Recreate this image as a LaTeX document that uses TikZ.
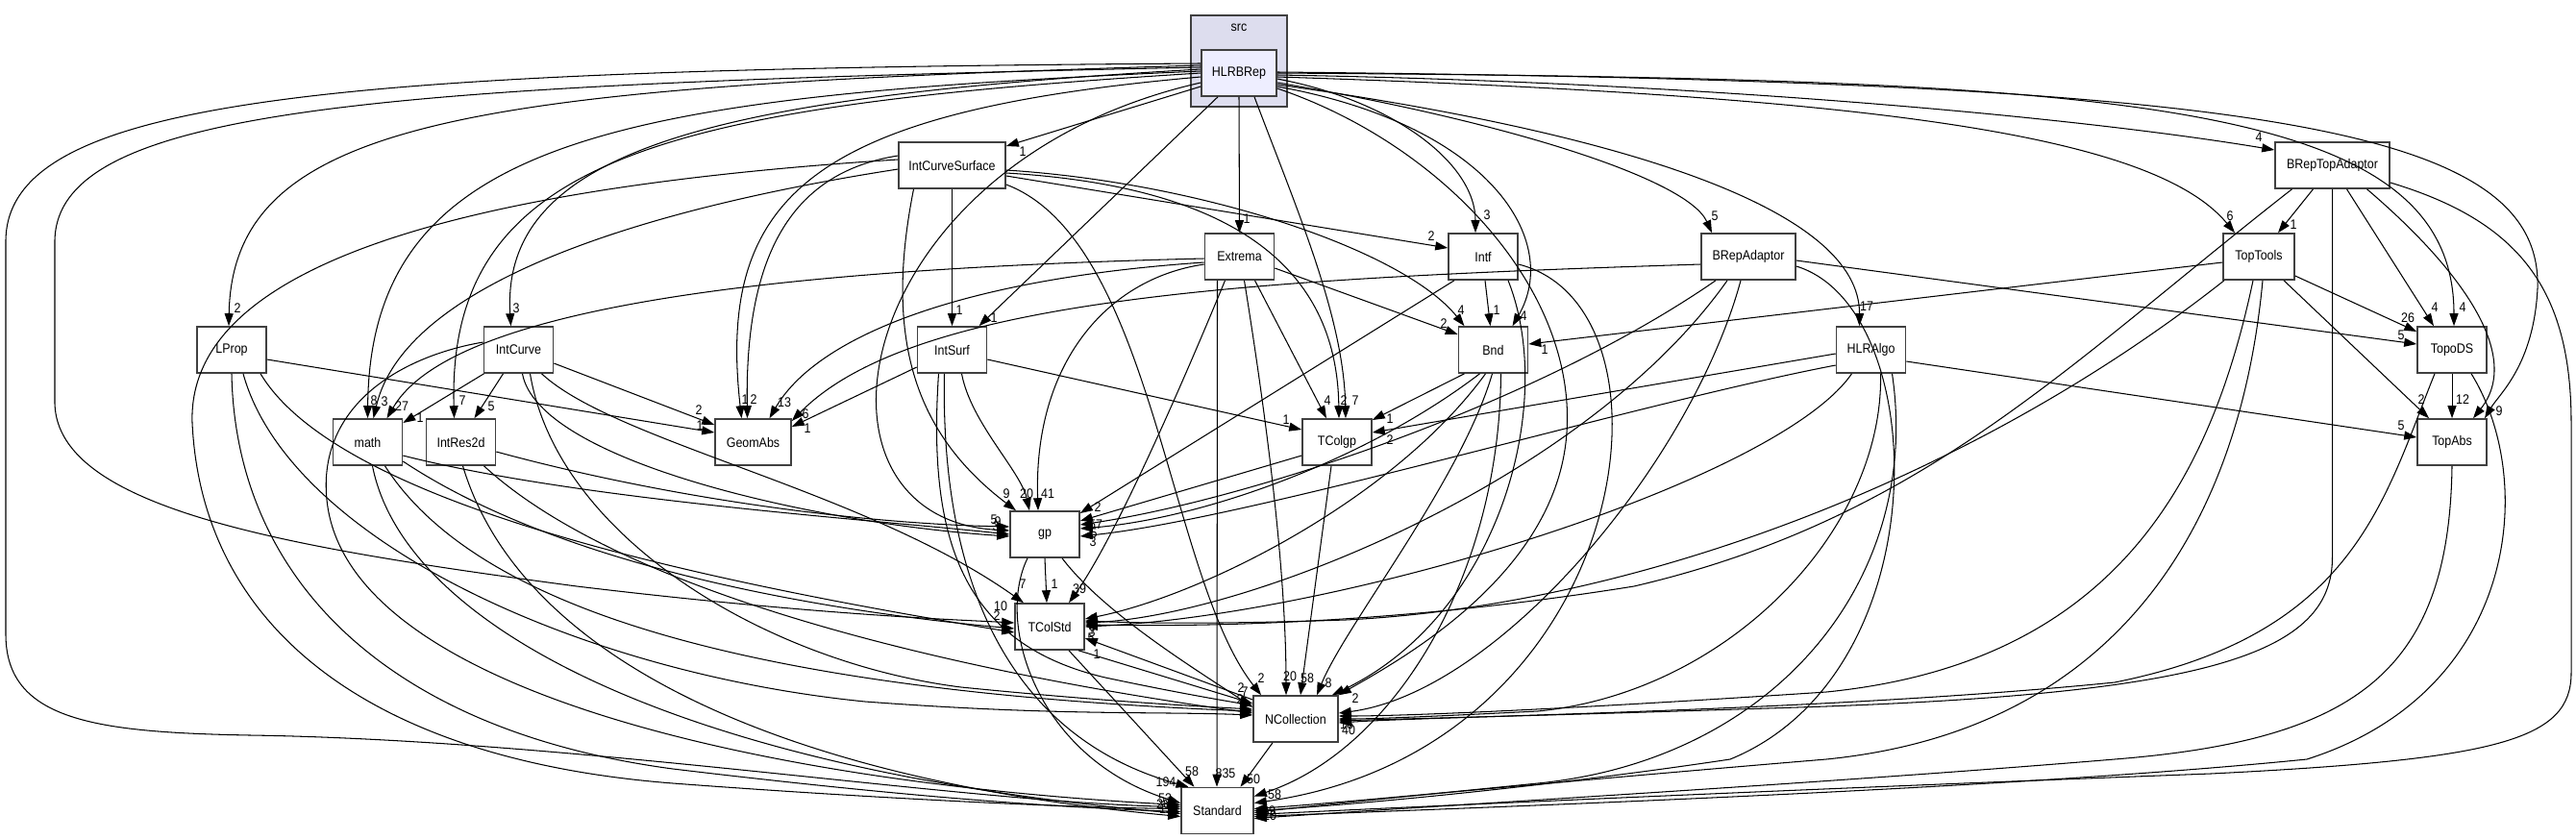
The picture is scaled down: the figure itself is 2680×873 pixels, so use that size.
\documentclass[tikz,border=0pt]{standalone}
\usepackage{fontspec}
\setmainfont{Liberation Sans}
\newfontfamily\nodefont[FakeStretch=0.89]{Liberation Sans}
\usetikzlibrary{arrows.meta}
\definecolor{boxc}{HTML}{404040}
\definecolor{clfill}{HTML}{DDDDEE}
\definecolor{hlfill}{HTML}{EEEEFF}
\tikzset{
  box/.style={draw=boxc, line width=1.6pt, fill=white, minimum width=72pt, minimum height=48pt, inner sep=0pt, font={\nodefont\fontsize{14pt}{16pt}\selectfont}},
  e/.style={draw=black, line width=1.05pt, -{Triangle[length=13pt,width=9pt]}},
  lab/.style={inner sep=0pt, font={\nodefont\fontsize{14pt}{16pt}\selectfont}},
}
\begin{document}
\begin{tikzpicture}[x=1pt,y=-1pt]
\useasboundingbox (0,0) rectangle (2680,873);
\fill[white] (0,0) rectangle (2680,873);
% cluster
\node[draw=boxc, line width=1.6pt, fill=clfill, minimum width=100pt, minimum height=95pt, inner sep=0pt] (srcbox) at (1289,63.5) {};
\node[lab] (srclab) at (1289,29) {src};
% nodes
\node[box, fill=hlfill, minimum width=78pt] (HLR) at (1289,76) {HLRBRep};
\node[box, minimum width=111pt] (ICS) at (990.5,172) {IntCurveSurface};
\node[box, minimum width=119pt] (BRTA) at (2426.5,172) {BRepTopAdaptor};
\node[box] (EXT) at (1289.5,267) {Extrema};
\node[box] (INTF) at (1543,267) {Intf};
\node[box, minimum width=98pt] (BRA) at (1819,267) {BRepAdaptor};
\node[box, minimum width=74pt] (TT) at (2350,267) {TopTools};
\node[box] (LP) at (241,364) {LProp};
\node[box] (IC) at (539.5,364) {IntCurve};
\node[box] (IS) at (990.5,364) {IntSurf};
\node[box] (BND) at (1553.5,364) {Bnd};
\node[box] (HA) at (1946.5,364) {HLRAlgo};
\node[box] (TDS) at (2551,364) {TopoDS};
\node[box] (MATH) at (382.5,460) {math};
\node[box] (IR2) at (479.5,460) {IntRes2d};
\node[box, minimum width=79pt] (GA) at (783.5,460) {GeomAbs};
\node[box] (TCG) at (1391,460) {TColgp};
\node[box] (TA) at (2551,460) {TopAbs};
\node[box] (GP) at (1087,556) {gp};
\node[box] (TCS) at (1092,652) {TColStd};
\node[box, minimum width=88pt] (NC) at (1348,748) {NCollection};
\node[box, minimum width=75pt] (STD) at (1266.5,843.5) {Standard};

% ===== HLRBRep =====
\draw[e] ([yshift=-14pt]HLR.west) -- ([yshift=20pt]ICS.east);
\node[lab] (l1) at (1064,158) {1};
\draw[e] (HLR.south) -- (EXT.north);
\node[lab] (l2) at (1297,228) {1};
\draw[e] ([yshift=-6pt]HLR.east) .. controls (1450,105) and (1535,170) .. ([xshift=-8pt]INTF.north);
\node[lab] (l3) at (1547,224) {3};
\draw[e] ([yshift=-10pt]HLR.east) .. controls (1560,125) and (1755,185) .. ([xshift=-38pt]BRA.north);
\node[lab] (l4) at (1784,225) {5};
\draw[e] ([yshift=-2pt]HLR.east) .. controls (1750,85) and (2150,120) .. ([yshift=16pt]BRTA.west);
\node[lab] (l5) at (2350,143) {4};
\draw[e] ([yshift=-4pt]HLR.east) .. controls (1950,100) and (2240,140) .. ([xshift=-25pt]TT.north);
\node[lab] (l6) at (2320,225) {6};
\draw[e] ([yshift=8pt]HLR.west) .. controls (500,90) and (242,120) .. ([xshift=-3pt]LP.north);
\node[lab] (l7) at (247,321) {2};
\draw[e] ([yshift=4pt]HLR.west) .. controls (760,100) and (520,150) .. ([xshift=-8pt]IC.north);
\node[lab] (l8) at (537,321) {3};
\draw[e] ([xshift=-22pt]HLR.south) -- ([xshift=28pt]IS.north);
\node[lab] (l9) at (1034,331) {1};
\draw[e] ([yshift=-14pt]HLR.east) .. controls (1550,130) and (1625,250) .. ([xshift=20pt]BND.north);
\node[lab] (l10) at (1585,329) {4};
\draw[e] ([yshift=-12pt]HLR.east) .. controls (1700,140) and (1935,220) .. ([xshift=-12pt]HA.north);
\node[lab] (l11) at (1942,319) {17};
\draw[e] (HLR.east) .. controls (2200,82) and (2553,100) .. ([xshift=2pt]TDS.north);
\node[lab] (l12) at (2562,320) {4};
\draw[e] ([yshift=2pt]HLR.west) .. controls (650,100) and (385,140) .. (MATH.north);
\node[lab] (l13) at (389,417) {8};
\draw[e] (HLR.west) .. controls (700,110) and (465,160) .. ([xshift=-7pt]IR2.north);
\node[lab] (l14) at (481,417) {7};
\draw[e] ([yshift=-4pt]HLR.west) .. controls (850,115) and (745,200) .. ([xshift=-12pt]GA.north);
\node[lab] (l15) at (775,416) {1};
\draw[e] ([xshift=16pt]HLR.south) .. controls (1350,220) and (1398,330) .. ([xshift=9pt]TCG.north);
\node[lab] (l16) at (1410,417) {7};
\draw[e] ([yshift=1pt]HLR.east) .. controls (2350,85) and (2645,130) .. (2640,300) .. controls (2636,380) and (2600,410) .. ([xshift=34pt]TA.north);
\node[lab] (l17) at (2600,428) {9};
\draw[e] ([yshift=-10pt]HLR.west) .. controls (880,170) and (820,540) .. ([yshift=4pt]GP.west);
\draw[e] ([yshift=6pt]HLR.west) .. controls (400,88) and (60,110) .. (57,250) -- (57,420) .. controls (60,530) and (300,570) .. (600,610) .. controls (850,640) and (1000,645) .. ([yshift=4pt]TCS.west);
\draw[e] ([yshift=10pt]HLR.west) .. controls (350,72) and (8,100) .. (6,250) -- (6,660) .. controls (6,750) and (100,762) .. (260,765) .. controls (600,770) and (1000,835) .. ([yshift=4pt]STD.west);
\draw[e] ([yshift=-16pt]HLR.east) .. controls (1500,150) and (1640,300) .. (1630,450) .. controls (1620,600) and (1450,690) .. (NC.north east);
\node[lab] (l21) at (1410,727) {2};

% ===== IntCurveSurface =====
\draw[e] (ICS.south) -- (IS.north);
\node[lab] (l22) at (998,323) {1};
\draw[e] ([yshift=-11pt]ICS.east) -- ([yshift=9pt]INTF.west);
\node[lab] (l23) at (1489,246) {2};
\draw[e] ([yshift=-5pt]ICS.east) .. controls (1250,190) and (1460,260) .. ([xshift=-30pt]BND.north);
\node[lab] (l24) at (1520,323) {4};
\draw[e] ([yshift=-8pt]ICS.east) .. controls (1300,195) and (1391,290) .. ([xshift=2pt]TCG.north);
\node[lab] (l25) at (1398,417) {2};
\draw[e] ([yshift=-4pt]ICS.west) .. controls (650,220) and (420,300) .. ([xshift=6pt]MATH.north);
\node[lab] (l26) at (400,418) {3};
\draw[e] ([yshift=10pt]ICS.west) .. controls (820,180) and (775,270) .. ([xshift=-6pt]GA.north);
\node[lab] (l27) at (784,416) {2};
\draw[e] ([xshift=-40pt]ICS.south) .. controls (920,350) and (950,450) .. ([xshift=-30pt]GP.north);
\node[lab] (l28) at (1047,514) {9};
\draw[e] ([yshift=-20pt]ICS.east) .. controls (1200,250) and (1215,600) .. ([xshift=-36pt]NC.north);
\node[lab] (l29) at (1312,706) {2};
\draw[e] ([yshift=6pt]ICS.west) .. controls (400,200) and (195,300) .. (200,440) .. controls (210,650) and (380,790) .. (700,815) .. controls (900,830) and (1100,840) .. ([yshift=2pt]STD.west);

% ===== Extrema =====
\draw[e] ([yshift=-2pt]EXT.west) .. controls (800,280) and (470,320) .. ([xshift=20pt]MATH.north);
\node[lab] (l30) at (418,423) {27};
\draw[e] ([yshift=-6pt]EXT.west) .. controls (1000,290) and (850,350) .. ([xshift=17pt]GA.north);
\node[lab] (l31) at (816,419) {13};
\draw[e] ([yshift=-12pt]EXT.east) -- ([yshift=16pt]BND.west);
\node[lab] (l32) at (1502,337) {2};
\draw[e] ([xshift=16pt]EXT.south) -- ([xshift=-11pt]TCG.north);
\node[lab] (l33) at (1381,417) {4};
\draw[e] ([yshift=-8pt]EXT.west) .. controls (1150,290) and (1075,380) .. ([xshift=-7pt]GP.north);
\node[lab] (l34) at (1090,514) {41};
\draw[e] ([xshift=-15pt]EXT.south) .. controls (1230,400) and (1160,560) .. ([xshift=20pt]TCS.north);
\node[lab] (l35) at (1123,613) {39};
\draw[e] ([xshift=5pt]EXT.south) .. controls (1320,450) and (1338,600) .. ([xshift=-10pt]NC.north);
\node[lab] (l36) at (1342,704) {20};
\draw[e] ([xshift=-23pt]EXT.south) -- ([xshift=-0.5pt]STD.north);
\node[lab] (l37) at (1275,805) {835};

% ===== Intf =====
\draw[e] ([xshift=2pt]INTF.south) -- ([xshift=-3pt]BND.north);
\node[lab] (l38) at (1557,323) {1};
\draw[e] ([xshift=-30pt]INTF.south) -- ([yshift=22pt]GP.east);
\node[lab] (l39) at (1142,528) {2};
\draw[e] ([xshift=26pt]INTF.south) .. controls (1620,420) and (1560,640) .. ([xshift=38pt]NC.north);
\draw[e] ([yshift=-8pt]INTF.east) .. controls (1760,320) and (1700,780) .. ([yshift=8pt]STD.east);

% ===== BRepAdaptor =====
\draw[e] ([yshift=-8pt]BRA.west) .. controls (1300,290) and (950,310) .. ([yshift=22pt]GA.east);
\node[lab] (l40) at (838,431) {6};
\draw[e] ([yshift=-4pt]BRA.east) -- ([yshift=6pt]TDS.west);
\node[lab] (l41) at (2498,349) {5};
\draw[e] ([xshift=-34pt]BRA.south) .. controls (1600,420) and (1300,520) .. ([yshift=10pt]GP.east);
\draw[e] ([xshift=-22pt]BRA.south) .. controls (1650,500) and (1300,640) .. ([yshift=4pt]TCS.east);
\draw[e] ([xshift=-8pt]BRA.south) .. controls (1760,480) and (1560,720) .. ([yshift=6pt]NC.east);
\draw[e] ([yshift=-10pt]BRA.east) .. controls (2010,320) and (2020,700) .. (1800,790) .. controls (1600,820) and (1400,838) .. (STD.east);

% ===== BRepTopAdaptor =====
\draw[e] ([xshift=-20pt]BRTA.south) -- ([xshift=20pt]TT.north);
\node[lab] (l42) at (2386,234) {1};
\draw[e] ([xshift=15pt]BRTA.south) -- ([xshift=-19pt]TDS.north);
\node[lab] (l43) at (2533,320) {4};
\draw[e] ([xshift=36pt]BRTA.south) .. controls (2560,280) and (2625,370) .. ([xshift=22pt]TA.north);
\draw[e] ([xshift=-42pt]BRTA.south) .. controls (2150,380) and (2000,540) .. (1700,610) .. controls (1450,650) and (1250,652) .. ([yshift=2pt]TCS.east);
\draw[e] (BRTA.south) -- (2426.5,580) .. controls (2426.5,680) and (2300,720) .. (1900,735) .. controls (1600,745) and (1450,748) .. ([yshift=-2pt]NC.east);
\draw[e] ([yshift=-18pt]BRTA.east) .. controls (2620,230) and (2675,300) .. (2675,440) -- (2675,700) .. controls (2675,770) and (2600,790) .. (2300,805) .. controls (1900,820) and (1500,838) .. ([yshift=-4pt]STD.east);

% ===== TopTools =====
\draw[e] ([yshift=-6pt]TT.west) -- ([yshift=6pt]BND.east);
\node[lab] (l44) at (1607,364) {1};
\draw[e] ([yshift=-20pt]TT.east) -- ([yshift=19pt]TDS.west);
\node[lab] (l45) at (2505,331) {26};
\draw[e] ([xshift=26pt]TT.south) -- ([xshift=-24pt]TA.north);
\node[lab] (l46) at (2519,416) {2};
\draw[e] ([xshift=-36pt]TT.south) .. controls (2050,500) and (1700,630) .. (1400,645) .. controls (1250,650) and (1180,648) .. ([yshift=6pt]TCS.east);
\draw[e] ([xshift=-6pt]TT.south) .. controls (2300,500) and (2200,690) .. (1900,720) .. controls (1600,740) and (1450,745) .. ([yshift=3pt]NC.east);
\draw[e] ([xshift=4pt]TT.south) .. controls (2330,550) and (2200,760) .. (1900,790) .. controls (1600,815) and (1400,835) .. ([yshift=2pt]STD.east);

% ===== LProp =====
\draw[e] ([yshift=-10pt]LP.east) -- ([yshift=10pt]GA.west);
\node[lab] (l47) at (728,443) {1};
\draw[e] ([xshift=30pt]LP.south) .. controls (350,520) and (700,600) .. ([yshift=-6pt]TCS.west);
\draw[e] ([xshift=12pt]LP.south) .. controls (300,560) and (600,700) .. (900,730) .. controls (1100,745) and (1200,740) .. ([yshift=4pt]NC.west);
\draw[e] (LP.south) .. controls (245,600) and (400,760) .. (700,800) .. controls (950,830) and (1100,840) .. ([yshift=-1pt]STD.west);

% ===== IntCurve =====
\draw[e] ([xshift=-36pt]IC.south) -- ([yshift=20pt]MATH.east);
\node[lab] (l48) at (437,435) {1};
\draw[e] ([xshift=-16pt]IC.south) -- ([xshift=14pt]IR2.north);
\node[lab] (l49) at (511,423) {5};
\draw[e] ([yshift=-14pt]IC.east) -- ([yshift=18pt]GA.west);
\node[lab] (l50) at (727,427) {2};
\draw[e] ([xshift=4pt]IC.south) .. controls (560,480) and (850,545) .. ([yshift=-2pt]GP.west);
\draw[e] ([xshift=24pt]IC.south) .. controls (640,460) and (900,510) .. ([xshift=-27pt]TCS.north);
\node[lab] (l51) at (1064,608) {7};
\draw[e] ([yshift=8pt]IC.west) .. controls (420,370) and (330,420) .. (340,520) .. controls (360,720) and (800,815) .. ([yshift=6pt]STD.west);
\draw[e] ([xshift=12pt]IC.south) .. controls (580,560) and (800,690) .. (1000,715) .. controls (1150,730) and (1250,735) .. ([yshift=10pt]NC.west);

% ===== IntSurf =====
\draw[e] ([yshift=-18pt]IS.west) -- ([yshift=16pt]GA.east);
\node[lab] (l52) at (840,446) {1};
\draw[e] ([yshift=-10pt]IS.east) -- ([yshift=13pt]TCG.west);
\node[lab] (l53) at (1338,437) {1};
\draw[e] ([xshift=10pt]IS.south) .. controls (1010,440) and (1062,490) .. ([xshift=-16pt]GP.north);
\node[lab] (l54) at (1068,514) {20};
\draw[e] ([xshift=-14pt]IS.south) .. controls (965,560) and (1000,670) .. (1150,705) .. controls (1230,722) and (1280,730) .. ([yshift=14pt]NC.west);
\draw[e] ([xshift=-8pt]IS.south) .. controls (978,620) and (1060,770) .. ([xshift=-30pt]STD.north);
\node[lab] (l55) at (1213,814) {194};

% ===== Bnd =====
\draw[e] ([xshift=-30pt]BND.south) -- ([yshift=23pt]TCG.east);
\node[lab] (l56) at (1446,436) {1};
\draw[e] ([xshift=-14pt]BND.south) .. controls (1420,480) and (1250,540) .. ([yshift=6pt]GP.east);
\draw[e] ([xshift=-8pt]BND.south) .. controls (1450,520) and (1250,620) .. ([yshift=8pt]TCS.east);
\draw[e] ([xshift=-1pt]BND.south) .. controls (1520,500) and (1400,650) .. ([xshift=22pt]NC.north);
\node[lab] (l57) at (1382,711) {8};
\draw[e] ([xshift=8pt]BND.south) .. controls (1560,600) and (1450,780) .. ([yshift=15pt]STD.east);
\node[lab] (l58) at (1326,827) {58};

% ===== HLRAlgo =====
\draw[e] ([yshift=-4pt]HA.west) -- ([yshift=10pt]TCG.east);
\node[lab] (l59) at (1446,458) {2};
\draw[e] ([yshift=-12pt]HA.east) -- ([yshift=5pt]TA.west);
\node[lab] (l60) at (2498,443) {5};
\draw[e] ([yshift=-16pt]HA.west) .. controls (1700,420) and (1300,540) .. ([yshift=-2pt]GP.east);
\draw[e] ([xshift=-20pt]HA.south) .. controls (1850,500) and (1400,640) .. (TCS.east);
\draw[e] ([xshift=10pt]HA.south) .. controls (1960,550) and (1800,720) .. (1600,740) .. controls (1500,745) and (1430,748) .. (NC.east);
\draw[e] ([xshift=22pt]HA.south) .. controls (2000,600) and (1850,790) .. (1600,815) .. controls (1450,830) and (1350,840) .. ([yshift=-2pt]STD.east);

% ===== TopoDS =====
\draw[e] (TDS.south) -- (TA.north);
\node[lab] (l61) at (2562,416) {12};
\draw[e] ([xshift=-18pt]TDS.south) .. controls (2480,520) and (2450,660) .. (2200,710) .. controls (1900,740) and (1500,745) .. ([yshift=-4pt]NC.east);
\draw[e] ([xshift=20pt]TDS.south) .. controls (2640,500) and (2620,720) .. (2400,790) .. controls (2100,820) and (1600,838) .. ([yshift=-6pt]STD.east);

% ===== math =====
\draw[e] ([yshift=-14pt]MATH.east) .. controls (600,520) and (900,540) .. (GP.west);
\draw[e] ([yshift=-20pt]MATH.east) .. controls (600,600) and (900,640) .. ([yshift=-2pt]TCS.west);
\draw[e] ([xshift=18pt]MATH.south) .. controls (500,640) and (800,720) .. ([yshift=8pt]NC.west);
\draw[e] ([xshift=5pt]MATH.south) .. controls (420,650) and (700,800) .. ([yshift=-3pt]STD.west);

% ===== IntRes2d =====
\draw[e] ([yshift=-10pt]IR2.east) .. controls (700,520) and (900,545) .. ([yshift=8pt]GP.west);
\draw[e] ([xshift=24pt]IR2.south) .. controls (650,620) and (1000,700) .. ([yshift=6pt]NC.west);
\draw[e] ([xshift=2pt]IR2.south) .. controls (540,680) and (800,810) .. ([yshift=-6pt]STD.west);

% ===== TColgp =====
\draw[e] ([yshift=-14pt]TCG.west) -- ([yshift=14pt]GP.east);
\draw[e] ([xshift=-6pt]TCG.south) -- ([xshift=5pt]NC.north);
\node[lab] (l62) at (1360,706) {58};

% ===== gp =====
\draw[e] (GP.south) -- ([xshift=-3pt]TCS.north);
\node[lab] (l63) at (1097,608) {1};
\draw[e] ([xshift=18pt]GP.south) .. controls (1150,640) and (1250,700) .. ([yshift=12pt]NC.west);
\draw[e] ([xshift=-18pt]GP.south) .. controls (1035,650) and (1080,790) .. ([yshift=8pt]STD.west);

% ===== TColStd / NCollection =====
\draw[e] ([xshift=30pt]TCS.south) -- ([yshift=16pt]NC.west);
\draw[e] ([yshift=20pt]NC.west) -- ([yshift=-12pt]TCS.east);
\node[lab] (l64) at (1141,681) {1};
\draw[e] ([xshift=20pt]TCS.south) -- ([xshift=-24pt]STD.north);
\node[lab] (l65) at (1240,803) {58};
\draw[e] ([xshift=-24pt]NC.south) -- ([xshift=24pt]STD.north);
\node[lab] (l66) at (1304,811) {50};
\draw[e] (TA.south) .. controls (2548,700) and (2450,770) .. (2200,790) .. controls (1900,815) and (1500,838) .. ([yshift=-8pt]STD.east);

% piled labels
\node[lab] (p1) at (1034,541) {5};
\node[lab] (p2) at (1038,543) {9};
\node[lab] (p3) at (1036,548) {3};
\node[lab] (p4) at (1140,546) {57};
\node[lab] (p5) at (1138,555) {5};
\node[lab] (p6) at (1137,564) {3};
\node[lab] (p7) at (1041,631) {10};
\node[lab] (p8) at (1037,641) {2};
\node[lab] (p9) at (1137,645) {8};
\node[lab] (p10) at (1136,652) {6};
\node[lab] (p11) at (1136,658) {3};
\node[lab] (p12) at (1135,664) {5};
\node[lab] (p13) at (1291,716) {2};
\node[lab] (p14) at (1295,720) {7};
\node[lab] (p15) at (1290,728) {2};
\node[lab] (p16) at (1292,735) {7};
\node[lab] (p17) at (1403,760) {40};
\node[lab] (p18) at (1401,754) {16};
\node[lab] (p19) at (1212,831) {53};
\node[lab] (p20) at (1210,837) {26};
\node[lab] (p21) at (1213,842) {15};
\node[lab] (p22) at (1320,844) {39};
\node[lab] (p23) at (1321,849) {20};
\end{tikzpicture}
\end{document}
